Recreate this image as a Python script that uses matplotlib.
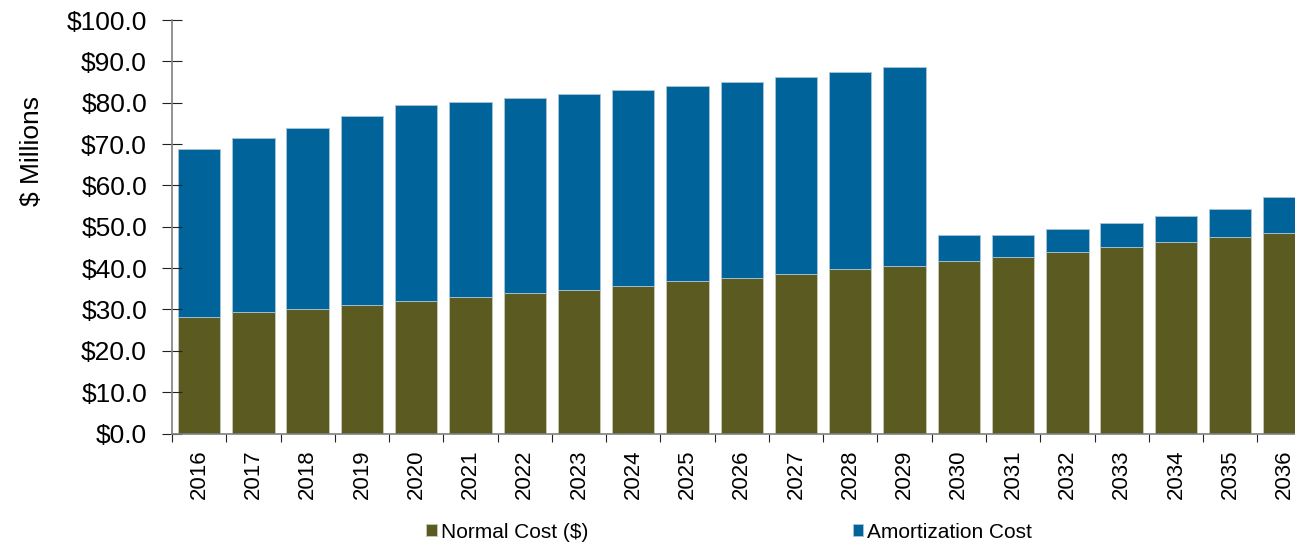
import matplotlib
matplotlib.use("Agg")
from matplotlib import pyplot as plt
from matplotlib.ticker import FuncFormatter

plt.rcParams['font.family'] = ['Liberation Sans', 'DejaVu Sans']

years = [str(y) for y in range(2016, 2037)]
normal_cost = [28.3, 29.3, 30.1, 31.0, 32.0, 33.0, 33.9, 34.8, 35.8, 36.8, 37.7,
               38.7, 39.7, 40.6, 41.8, 42.7, 44.0, 45.1, 46.4, 47.6, 48.5]
total_cost = [68.7, 71.4, 74.0, 76.7, 79.4, 80.2, 81.2, 82.1, 83.0, 84.0, 85.1,
              86.3, 87.4, 88.7, 48.1, 47.9, 49.5, 51.0, 52.5, 54.2, 57.2]
amortization_cost = [t - n for t, n in zip(total_cost, normal_cost)]

olive = "#5b5a21"
blue = "#00649b"

fig = plt.figure(figsize=(12.95, 5.44), dpi=100)
# axes runs past the right edge so the last bar is cut off
ax = fig.add_axes([0.1328, 0.2031, 0.88, 0.760])

x = list(range(len(years)))
ax.bar(x, normal_cost, width=0.78, color=olive, edgecolor="#c9cbb8",
       linewidth=0.6, label="Normal Cost ($)")
ax.bar(x, amortization_cost, width=0.78, bottom=normal_cost, color=blue,
       edgecolor="#a9c4d8", linewidth=0.6, label="Amortization Cost")

ax.set_xlim(-0.5, len(years) - 0.5)
ax.set_ylim(0, 100)
ax.set_yticks(range(0, 101, 10))
ax.yaxis.set_major_formatter(FuncFormatter(lambda v, p: "${:.1f}".format(v)))

ax.set_xticks(x)
ax.set_xticklabels(years, rotation=90, fontsize=16)
ax.set_xticks([i - 0.5 for i in range(len(years) + 1)], minor=True)
ax.tick_params(axis='x', which='major', length=0, pad=11.5)
ax.tick_params(axis='x', which='minor', length=6, direction='out', color='#222222', width=0.8)
ax.tick_params(axis='y', which='major', length=15, direction='inout', labelsize=19,
               color='#222222', width=0.8, pad=10.5)

for side in ['top', 'right']:
    ax.spines[side].set_visible(False)
for side in ['left', 'bottom']:
    ax.spines[side].set_color('#7f7f7f')
    ax.spines[side].set_linewidth(1.2)

ax.set_ylabel("$ Millions", fontsize=19)
ax.yaxis.set_label_coords(-0.112, 0.683)

fig.legend(loc='center', bbox_to_anchor=(0.563, 0.022), ncol=2, frameon=False,
           fontsize=15, handlelength=0.5, handleheight=0.5, handletextpad=0.2,
           columnspacing=12.7, borderaxespad=0, borderpad=0)

fig.savefig("out.png", dpi=100)
